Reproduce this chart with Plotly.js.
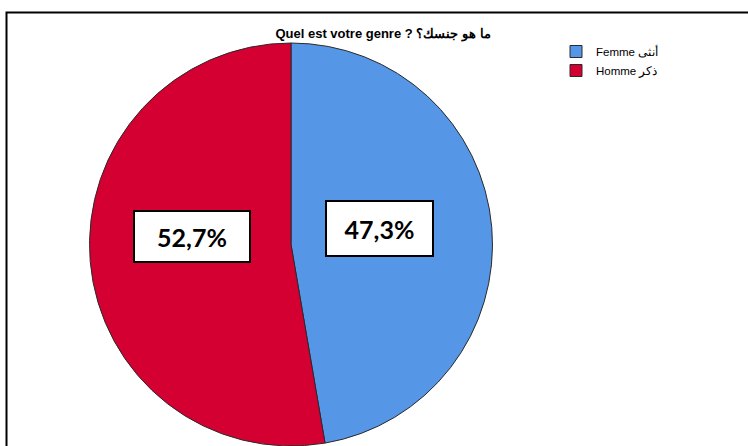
<!DOCTYPE html>
<html>
<head>
<meta charset="utf-8">
<script src="https://cdn.plot.ly/plotly-3.0.1.min.js"></script>
<style>
html,body{margin:0;padding:0;background:#fff;}
#chart{width:748px;height:446px;}
</style>
</head>
<body>
<div id="chart"></div>
<script>
// Data
const chartTitle = "Quel est votre genre ? ما هو جنسك؟";
const categories = ["Femme أنثى", "Homme ذكر"];
const percentages = [47.3, 52.7];
const sliceColors = ["#5596E6", "#D50032"];

const labelText = percentages.map(v => v.toFixed(1).replace('.', ',') + '%');

const W = 748, H = 446;
const px = x => x / W;
const py = y => (H - y) / H;

const trace = {
  type: 'pie',
  labels: categories,
  values: percentages,
  sort: false,
  direction: 'clockwise',
  rotation: 0,
  textinfo: 'none',
  hoverinfo: 'label+percent',
  marker: {colors: sliceColors, line: {color: '#2a2a2a', width: 1}},
  domain: {x: [px(89), px(493)], y: [py(446.5), py(43)]}
};

// label box placements (layout only)
const labelPos = [[379.5, 228.5], [192, 236.5]];

const annotations = labelText.map((t, i) => ({
  text: '<b>' + t + '</b>',
  xref: 'paper', yref: 'paper',
  x: px(labelPos[i][0]), y: py(labelPos[i][1]),
  xanchor: 'center', yanchor: 'middle',
  showarrow: false,
  font: {family: 'Lato, "Open Sans", sans-serif', size: 25, color: '#000'},
  bgcolor: '#ffffff',
  bordercolor: '#000000',
  borderwidth: 2,
  borderpad: 0,
  width: i === 0 ? 105 : 114,
  height: i === 0 ? 53 : 49
}));

const layout = {
  width: W, height: H,
  margin: {l: 0, r: 0, t: 0, b: 0},
  paper_bgcolor: '#ffffff',
  plot_bgcolor: '#ffffff',
  title: {
    text: '<b>' + chartTitle + '</b>',
    font: {family: '"Liberation Sans", Arial, sans-serif', size: 13, color: '#000'},
    x: px(383), xanchor: 'center',
    y: py(33), yanchor: 'middle'
  },
  showlegend: true,
  legend: {
    x: px(556), y: py(37), xanchor: 'left', yanchor: 'top',
    font: {family: '"Liberation Sans", Arial, sans-serif', size: 11.5, color: '#000'},
    bgcolor: 'rgba(0,0,0,0)',
    itemwidth: 30,
    tracegroupgap: 0
  },
  shapes: [{
    type: 'rect', xref: 'paper', yref: 'paper',
    x0: px(6.5), x1: 1.2, y0: -0.2, y1: py(12.5),
    line: {color: '#000', width: 2}, fillcolor: 'rgba(0,0,0,0)', layer: 'below'
  }],
  annotations: annotations
};

Plotly.newPlot('chart', [trace], layout, {displayModeBar: false, staticPlot: true});
</script>
</body>
</html>
